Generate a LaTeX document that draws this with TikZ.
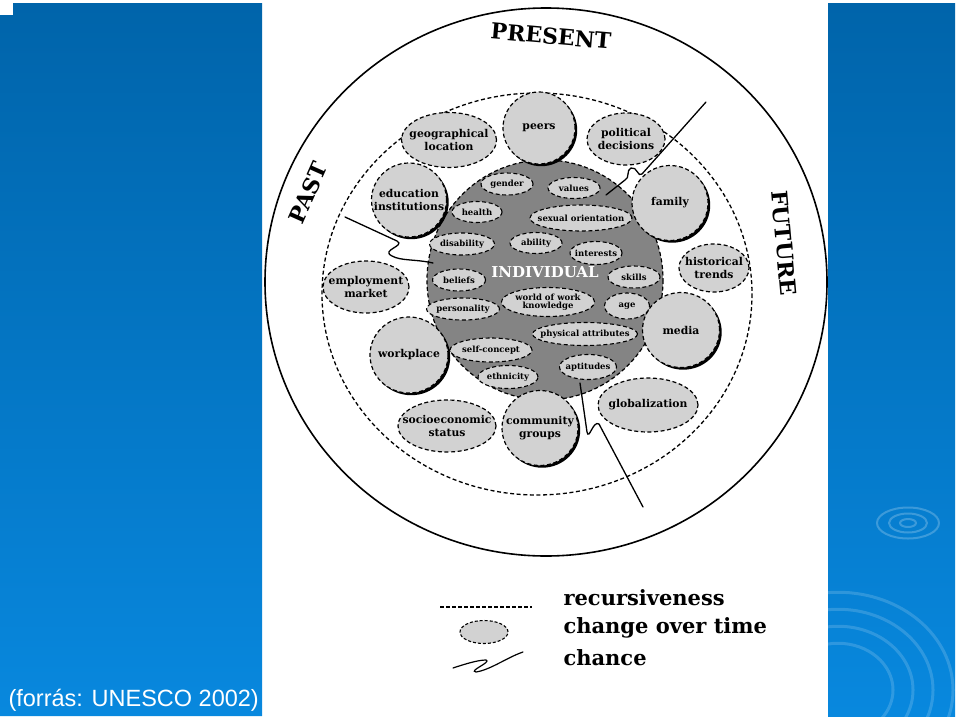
\documentclass[tikz,border=0pt]{standalone}
\usepackage{fontspec}
\setmainfont{DejaVu Serif}
\newfontfamily\srcfont{Liberation Sans}
\usepackage{tikz}
\usetikzlibrary{shapes}
\usetikzlibrary{shapes.geometric}
\usetikzlibrary{shadows}
\usetikzlibrary{positioning}
\definecolor{lgrey}{RGB}{210,210,210}
\definecolor{dgrey}{RGB}{132,132,132}
\definecolor{bluetop}{RGB}{0,100,170}
\definecolor{bluebot}{RGB}{8,136,222}
\tikzset{
    dashy/.style = {dash pattern=on 4pt off 2.6pt},
    inner/.style = {ellipse, draw=black, line width=1.1pt, dashy, fill=lgrey, inner xsep=-14pt, inner ysep=-4pt, align=center, font=\fontsize{8.5}{8}\selectfont\bfseries},
    outer/.style = {ellipse, draw=black, line width=1.2pt, dashy, fill=lgrey, inner xsep=-16pt, inner ysep=-4pt, align=center, font=\fontsize{10.8}{12.5}\selectfont\bfseries},
    outers/.style = {outer, drop shadow={shadow xshift=2.2pt, shadow yshift=-2.2pt, fill=black, opacity=1}},
    chance/.style = {line width=1.3pt, black, line cap=round},
    era/.style = {font=\fontsize{22}{22}\selectfont\bfseries},
    legtext/.style = {anchor=west, font=\fontsize{21}{21}\selectfont\bfseries}
}
\begin{document}
\begin{tikzpicture}[x=1pt,y=-1pt]
\useasboundingbox (0,0) rectangle (960,720);
\fill[white] (0,0) rectangle (960,720);
% blue side panels
\shade[top color=bluetop, bottom color=bluebot] (13,3) -- (262,3) -- (262,716) -- (0,716) -- (0,15) -- (13,15) -- cycle;
\shade[top color=bluetop, bottom color=bluebot] (828,3) rectangle (955,716);
\begin{scope}
  \clip (828,3) rectangle (955,716);
  \foreach \r in {8,19,31}
    \draw[white, opacity=0.22, line width=2pt] (908,523) ellipse [x radius=\r, y radius=0.5*\r];
  \foreach \r in {55,75,95,115}
    \draw[white, opacity=0.16, line width=3pt] (838,690) ellipse [x radius=\r, y radius=0.85*\r];
\end{scope}
\node[anchor=base west, text=white, font=\srcfont\fontsize{23.5}{23.5}\selectfont] (src) at (5,706) {(forrás: UNESCO 2002)};
%
% time rings
\draw[line width=1.6pt] (546,282) ellipse [x radius=281, y radius=274];
\draw[line width=1.3pt, dashy] (537,294) ellipse [x radius=215, y radius=201];
\draw[line width=1.2pt, dashy, fill=dgrey] (545,280) ellipse [x radius=118, y radius=120];
\node[era, rotate=-5] (present) at (551,36) {PRESENT};
\node[era, rotate=66] (past) at (308,193) {PAST};
\node[era, rotate=-85] (future) at (784,243) {FUTURE};
%
% context system
\node[outer, minimum width=95pt, minimum height=55pt] at (449,140) (geo) {geographical\\location};
\node[outers, minimum width=72pt, minimum height=72pt] at (539,128) (peers) {peers};
\node[outer, minimum width=78pt, minimum height=52pt] at (626,139) (polit) {political\\decisions};
\node[outers, minimum width=75pt, minimum height=74pt] at (409,200) (edu) {education\\institutions};
\node[outers, minimum width=76pt, minimum height=75pt] at (670,203) (family) {family};
\node[outer, minimum width=86pt, minimum height=52pt] at (366,287) (employ) {employment\\market};
\node[outer, minimum width=70pt, minimum height=48pt] at (714,268) (hist) {historical\\trends};
\node[outers, minimum width=78pt, minimum height=76pt] at (409,355) (workpl) {workplace};
\node[outers, minimum width=77pt, minimum height=75pt] at (681,330) (media) {media};
\node[outer, minimum width=98pt, minimum height=52pt] at (447,426) (socio) {socioeconomic\\status};
\node[outers, minimum width=76pt, minimum height=75pt] at (540,428) (commun) {community\\groups};
\node[outer, minimum width=100pt, minimum height=54pt] at (648,405) (global) {globalization};
%
% individual system
\node[text=white, font=\fontsize{15}{15}\selectfont\bfseries] at (545,272) (indiv) {INDIVIDUAL};
\node[inner, minimum width=52pt, minimum height=22pt] at (507,184) (gender) {gender};
\node[inner, minimum width=52pt, minimum height=21pt] at (574,188) (values) {values};
\node[inner, minimum width=50pt, minimum height=21pt] at (477,212) (health) {health};
\node[inner, minimum width=102pt, minimum height=26pt] at (581,218) (sexor) {sexual orientation};
\node[inner, minimum width=65pt, minimum height=22pt] at (462,244) (disab) {disability};
\node[inner, minimum width=52pt, minimum height=21pt] at (536,243) (ability) {ability};
\node[inner, minimum width=52pt, minimum height=23pt] at (596,253) (interests) {interests};
\node[inner, minimum width=53pt, minimum height=22pt] at (459,280) (beliefs) {beliefs};
\node[inner, minimum width=52pt, minimum height=22pt] at (634,277) (skills) {skills};
\node[inner, minimum width=93pt, minimum height=29pt, font=\fontsize{8.5}{7.5}\selectfont\bfseries] at (548,302) (wow) {world of work\\knowledge};
\node[inner, minimum width=73pt, minimum height=22pt] at (463,309) (person) {personality};
\node[inner, minimum width=45pt, minimum height=26pt] at (627,306) (age) {age};
\node[inner, minimum width=105pt, minimum height=23pt] at (585,334) (phys) {physical attributes};
\node[inner, minimum width=82pt, minimum height=24pt] at (491,350) (selfc) {self-concept};
\node[inner, minimum width=60pt, minimum height=23pt] at (508,377) (ethn) {ethnicity};
\node[inner, minimum width=57pt, minimum height=25pt] at (588,367) (apt) {aptitudes};
%
% chance events
\coordinate (c1a) at (345,217);
\coordinate (c1b) at (433,263);
\coordinate (c2a) at (706,102);
\coordinate (c2b) at (606,195);
\coordinate (c3a) at (580,383);
\coordinate (c3b) at (643,507);
\draw[chance] (c1a) -- (397,241) .. controls (406,246) and (380,250) .. (392,256) .. controls (401,261) and (415,259) .. (c1b);
\draw[chance] (c2a) -- (642,174) .. controls (638,178) and (637,166) .. (631,168) .. controls (626,170) and (630,178) .. (625,180) -- (c2b);
\draw[chance] (c3a) -- (587,432) .. controls (589,441) and (593,420) .. (599,424) -- (c3b);
%
% legend
\coordinate (l1a) at (440,607);
\coordinate (l1b) at (532,607);
\draw[line width=1.1pt, dash pattern=on 3.5pt off 2.5pt] (l1a) -- (l1b);
\node[ellipse, draw=black, line width=1.1pt, dash pattern=on 3pt off 2pt, fill=lgrey, minimum width=48pt, minimum height=23pt, inner sep=0pt] at (484,632) (lell) {};
\coordinate (l3a) at (453,668);
\coordinate (l3b) at (523,652);
\draw[chance, line width=1.2pt] (l3a) .. controls (465,664) and (478,660) .. (486,660) .. controls (492,662) and (468,671) .. (476,672) .. controls (490,670) and (508,657) .. (l3b);
\node[legtext] at (560,598) (lrec) {recursiveness};
\node[legtext] at (560,628) (lchg) {change over time};
\node[legtext] at (560,658) (lchn) {chance};
\end{tikzpicture}
\end{document}
